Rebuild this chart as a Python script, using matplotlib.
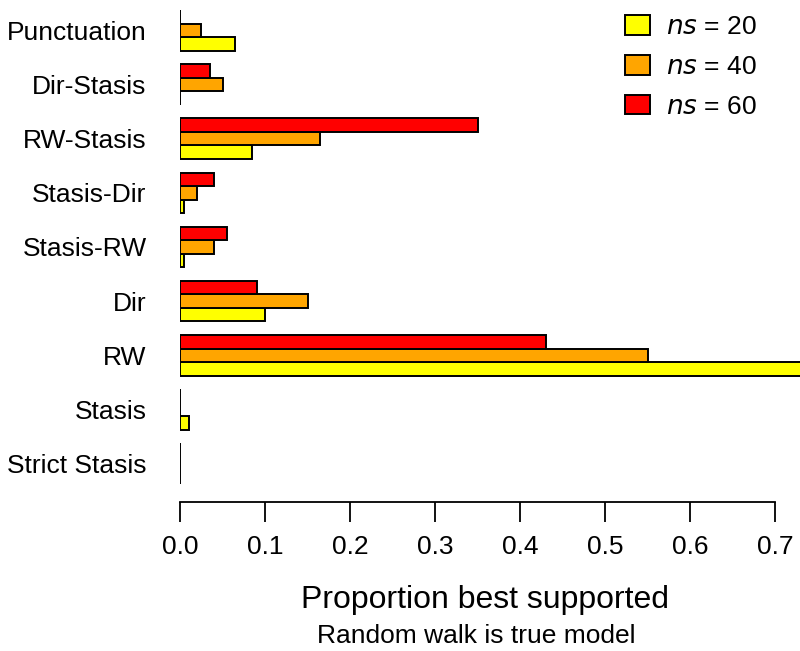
import numpy as np
import matplotlib.pyplot as plt

plt.rcParams['font.family'] = ['Liberation Sans', 'DejaVu Sans']

# model names, bottom to top
models = ["Strict Stasis", "Stasis", "RW", "Dir", "Stasis-RW",
          "Stasis-Dir", "RW-Stasis", "Dir-Stasis", "Punctuation"]

# proportion best supported for each sample size (same order as models)
ns20 = [0.0, 0.01, 0.75, 0.10, 0.005, 0.005, 0.085, 0.0, 0.065]
ns40 = [0.0, 0.0, 0.55, 0.15, 0.04, 0.02, 0.165, 0.05, 0.025]
ns60 = [0.0, 0.0, 0.43, 0.09, 0.055, 0.04, 0.35, 0.035, 0.0]

series = [ns20, ns40, ns60]
series_labels = ["20", "40", "60"]
colors = ["yellow", "orange", "red"]
xticks = [0.0, 0.1, 0.2, 0.3, 0.4, 0.5, 0.6, 0.7]

fig = plt.figure(figsize=(8, 6.51), dpi=100)
ax = fig.add_axes([180 / 800, (651 - 484) / 651, 620 / 800, 474 / 651])

# R style grouped layout: 3 bars per group plus one bar of space
groups = np.arange(len(models))
for k, (vals, col, lab) in enumerate(zip(series, colors, series_labels)):
    ax.barh(4 * groups + 1.5 + k, vals, height=1.0, color=col,
            edgecolor="black", linewidth=1.4,
            label=r"$\it{ns}$ = " + lab)

ax.set_ylim(1, 36)
ax.set_xlim(0, 0.7294)

ax.set_yticks(4 * groups + 2.5)
ax.set_yticklabels(models)
ax.tick_params(axis="y", length=0, pad=24, labelsize=19)

ax.set_xticks(xticks)
ax.set_xticklabels(["%.1f" % v for v in xticks])
ax.tick_params(axis="x", length=14.5, width=1.3, pad=9, labelsize=19)

for s in ["top", "right", "left"]:
    ax.spines[s].set_visible(False)
ax.spines["bottom"].set_position(("outward", 13))
ax.spines["bottom"].set_bounds(0, 0.7)
ax.spines["bottom"].set_linewidth(1.3)

handles, labels = ax.get_legend_handles_labels()
leg = ax.legend(handles, labels, loc="upper right", frameon=False,
                fontsize=19, handlelength=0.95, handleheight=0.76,
                labelspacing=0.6, handletextpad=0.6,
                bbox_to_anchor=(0.969, 1.039))

fig.text(485 / 800, 1 - 600 / 651, "Proportion best supported",
         fontsize=23, ha="center", va="center")
fig.text(476 / 800, 1 - 636 / 651, "Random walk is true model",
         fontsize=19, ha="center", va="center")

fig.savefig("out.png", dpi=100)
